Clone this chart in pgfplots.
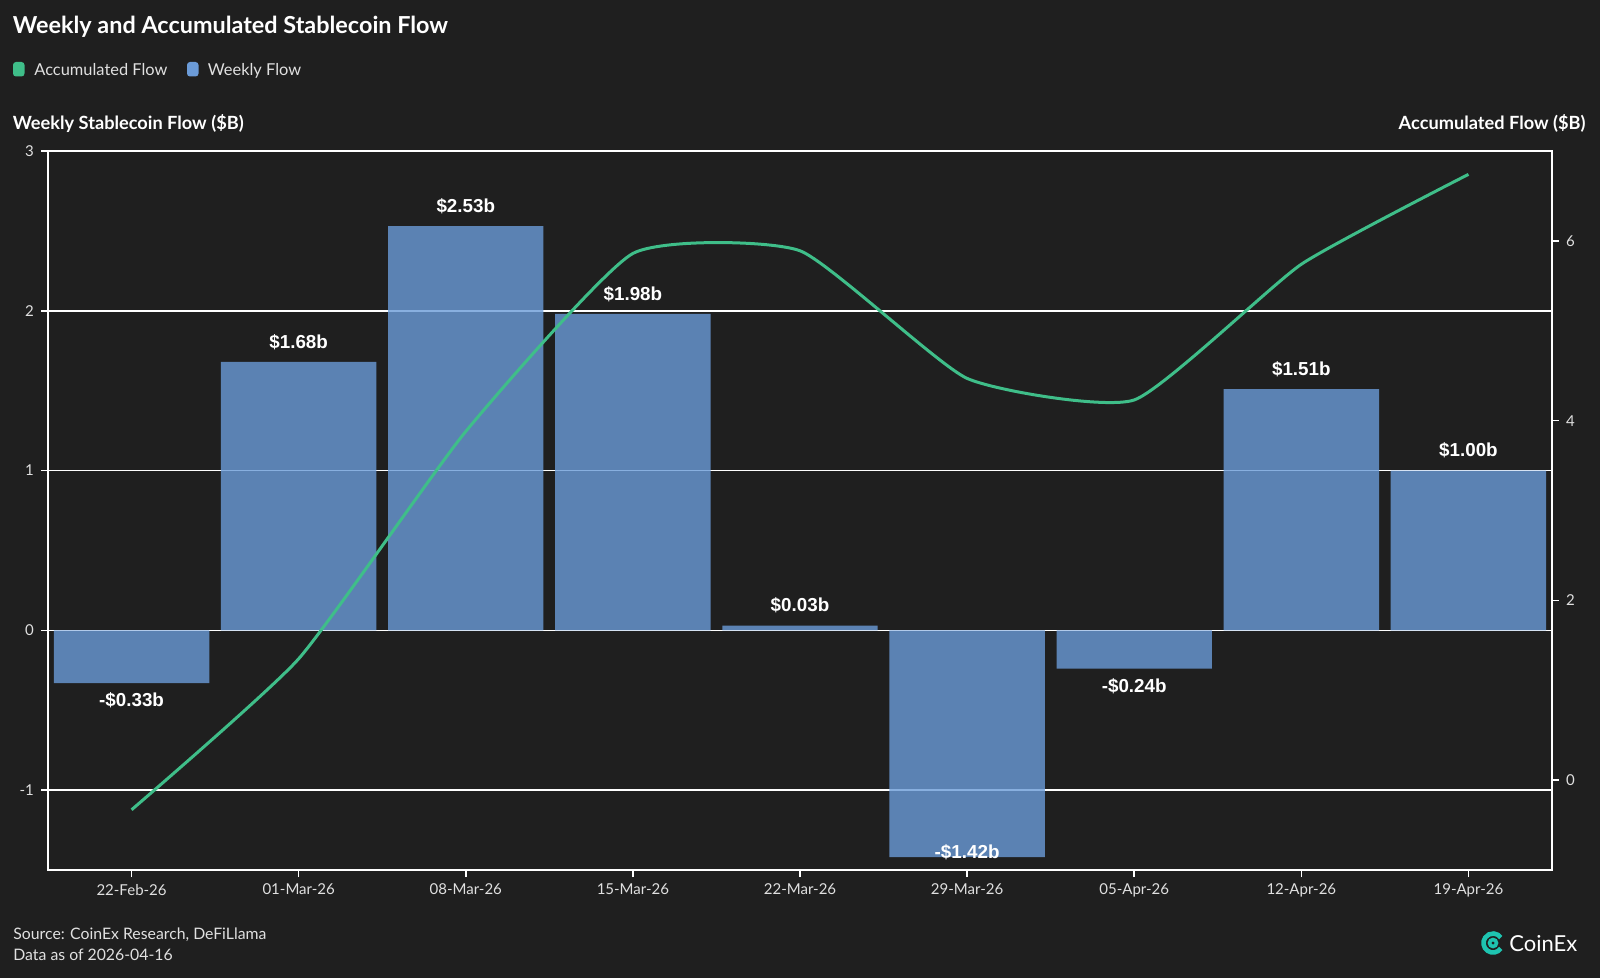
\documentclass[border=0pt]{standalone}
\usepackage{pgfplots}
\pgfplotsset{compat=1.18}
\usepackage{pgfplotstable}
\usepackage{fontspec}
\setmainfont{Lato}
\newfontfamily\lab{Liberation Sans}
\definecolor{bg}{RGB}{31,31,31}
\definecolor{barblue}{RGB}{107,155,216}
\definecolor{lineg}{RGB}{63,190,137}
\definecolor{teal}{RGB}{30,196,176}
\pgfplotstableread{
x w acc
0 -0.33 -0.33
1 1.68 1.35
2 2.53 3.88
3 1.98 5.86
4 0.03 5.89
5 -1.42 4.47
6 -0.24 4.23
7 1.51 5.74
8 1.00 6.74
}\flows
\pgfplotstableread{
x ly lab
0 -0.44 -\$0.33b
1 1.805 \$1.68b
2 2.655 \$2.53b
3 2.105 \$1.98b
4 0.155 \$0.03b
5 -1.39 -\$1.42b
6 -0.35 -\$0.24b
7 1.635 \$1.51b
8 1.125 \$1.00b
}\labels
\begin{document}
\begin{tikzpicture}
\begin{scope}[x=0.5pt,y=-0.5pt]
\fill[bg] (0,0) rectangle (1600,978);
\useasboundingbox (0,0) rectangle (1600,978);
\end{scope}
\begin{axis}[
  at={(24pt,-435pt)}, anchor=south west,
  scale only axis, width=752pt, height=359.5pt,
  xmin=-0.5, xmax=8.5, ymin=-1.5, ymax=3,
  xtick={0,...,8},
  xticklabels={22-Feb-26,01-Mar-26,08-Mar-26,15-Mar-26,22-Mar-26,29-Mar-26,05-Apr-26,12-Apr-26,19-Apr-26},
  ytick={-1,0,1,2,3},
  yticklabels={-1,0,1,2,3},
  tick align=outside, major tick length=3.5pt,
  xtick pos=bottom, ytick pos=left,
  axis line style={white, line width=0.75pt},
  tick style={white, line width=0.75pt},
  ymajorgrids, grid style={white, line width=0.75pt},
  ticklabel style={font=\fontsize{7.5}{9}\selectfont, text=white!88!black},
  /pgf/number format/assume math mode=true,
  clip=false,
]
\addplot[ybar, bar width=0.93, fill=barblue, fill opacity=0.8, draw=none] table[x=x,y=w] {\flows};
\addplot[draw=none, mark=none, nodes near coords, point meta=explicit symbolic,
  every node near coord/.style={anchor=center, font=\lab\bfseries\fontsize{9.4}{11}\selectfont, text=white, inner sep=0pt}]
  table[x=x,y=ly,meta=lab] {\labels};
\end{axis}
\begin{axis}[
  at={(24pt,-435pt)}, anchor=south west,
  scale only axis, width=752pt, height=359.5pt,
  xmin=-0.5, xmax=8.5, ymin=-1, ymax=7,
  axis x line=none, axis y line*=right,
  ytick={0,2,4,6},
  tick align=outside, major tick length=3.5pt,
  axis line style={white, line width=0.75pt},
  tick style={white, line width=0.75pt},
  ticklabel style={font=\fontsize{7.5}{9}\selectfont, text=white!88!black},
  /pgf/number format/assume math mode=true,
]
\addplot[lineg, line width=1.5pt, smooth, tension=0.3, mark=none] table[x=x,y=acc] {\flows};
\end{axis}
\begin{scope}[x=0.5pt,y=-0.5pt]
\node[anchor=base west, inner sep=0, text=white, font=\bfseries\fontsize{11.7}{14}\selectfont] at (12.5,34) {Weekly and Accumulated Stablecoin Flow};
\fill[lineg, rounded corners=1.5pt] (13,62) rectangle (24.5,76.5);
\node[anchor=base west, inner sep=0, text=white!88!black, font=\fontsize{8.2}{10}\selectfont] at (34,75.5) {Accumulated Flow};
\fill[barblue, rounded corners=1.5pt] (187,62) rectangle (198.5,76.5);
\node[anchor=base west, inner sep=0, text=white!88!black, font=\fontsize{8.2}{10}\selectfont] at (207.5,75.5) {Weekly Flow};
\node[anchor=base west, inner sep=0, text=white, font=\bfseries\fontsize{9.1}{11}\selectfont] at (12.5,130) {Weekly Stablecoin Flow (\$B)};
\node[anchor=base east, inner sep=0, text=white, font=\bfseries\fontsize{9.1}{11}\selectfont] at (1586,130) {Accumulated Flow (\$B)};
\node[anchor=base west, inner sep=0, text=white!88!black, font=\fontsize{7.9}{10}\selectfont] at (13,939) {Source: CoinEx Research, DeFiLlama};
\node[anchor=base west, inner sep=0, text=white!88!black, font=\fontsize{7.9}{10}\selectfont] at (13,960) {Data as of 2026-04-16};
\draw[teal, line width=2.3pt] ([shift={(35:9.5)}]1493,943) arc (35:325:9.5);
\draw[teal, line width=1.8pt] (1493,943) circle (3.5);
\node[anchor=base west, inner sep=0, text=white, font=\fontsize{11}{13}\selectfont] at (1509,951) {CoinEx};
\end{scope}
\end{tikzpicture}
\end{document}
